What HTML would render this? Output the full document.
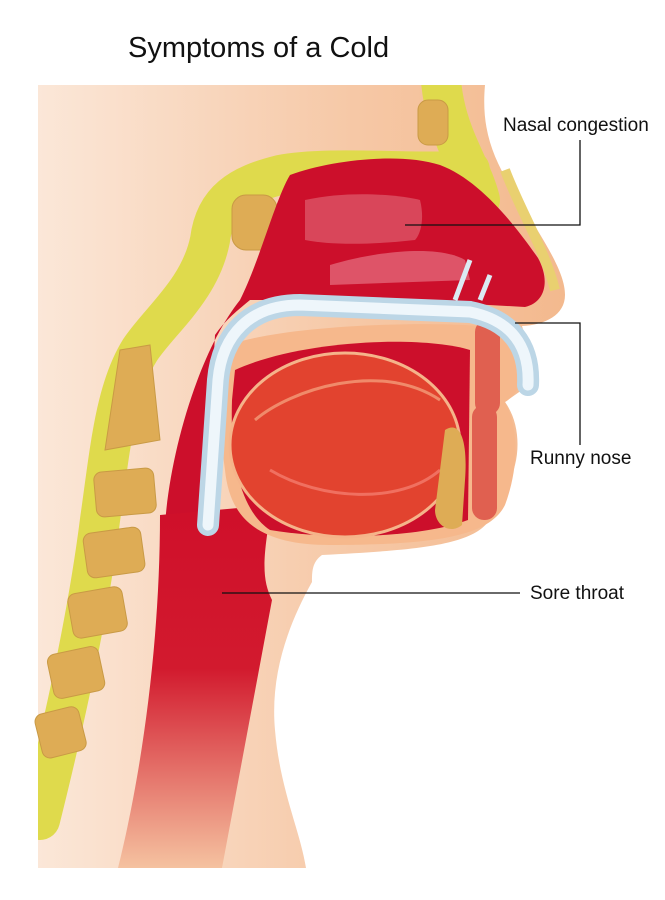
<!DOCTYPE html>
<html><head><meta charset="utf-8"><style>
html,body{margin:0;padding:0;background:#fff;}
svg{display:block}
text{font-family:"Liberation Sans",sans-serif;fill:#111}
</style></head><body>
<svg width="665" height="900" viewBox="0 0 665 900" xmlns="http://www.w3.org/2000/svg">
<defs>
<linearGradient id="skin" x1="0" y1="0" x2="1" y2="0">
<stop offset="0" stop-color="#fbe7d8"/><stop offset="0.6" stop-color="#f6c8a6"/><stop offset="1" stop-color="#f3b98e"/>
</linearGradient>
<linearGradient id="thr" x1="0" y1="0" x2="0" y2="1">
<stop offset="0" stop-color="#cf0f2a"/><stop offset="0.45" stop-color="#d21a2e"/><stop offset="1" stop-color="#f5c2a0"/>
</linearGradient>
<clipPath id="hc"><path d="M38,85 L485,85 C480,140 500,170 525,210 C550,250 565,275 565,295 C565,315 545,325 522,326 C528,345 532,375 522,390 L505,402 C518,420 520,445 515,465 C510,485 500,510 488,522 C470,545 420,550 322,555 C312,562 312,572 312,582 C288,625 270,675 275,730 C280,790 300,830 306,868 L38,868 Z"/></clipPath>
</defs>
<text x="128" y="57" font-size="29">Symptoms of a Cold</text>
<path d="M38,85 L485,85 C480,140 500,170 525,210 C550,250 565,275 565,295 C565,315 545,325 522,326 C528,345 532,375 522,390 L505,402 C518,420 520,445 515,465 C510,485 500,510 488,522 C470,545 420,550 322,555 C312,562 312,572 312,582 C288,625 270,675 275,730 C280,790 300,830 306,868 L38,868 Z" fill="url(#skin)"/>
<g clip-path="url(#hc)">
<path d="M440,60 C440,130 470,160 480,200 M470,170 C420,175 330,165 280,175 C240,185 215,200 210,240 C200,290 160,320 140,350 C115,390 110,450 100,520 C90,600 70,700 40,820" fill="none" stroke="#dfda4c" stroke-width="40" stroke-linecap="round"/>
</g>
<path d="M505,170 C520,210 545,250 555,290" fill="none" stroke="#e9d070" stroke-width="10"/>
<g fill="#deac55" stroke="#c99a45" stroke-width="1">
<rect x="418" y="100" width="30" height="45" rx="10"/>
<rect x="232" y="195" width="45" height="55" rx="14"/>
<path d="M120,350 L150,345 L160,440 L105,450 Z"/>
<rect x="95" y="470" width="60" height="45" rx="8" transform="rotate(-5 125 492)"/>
<rect x="85" y="530" width="58" height="45" rx="8" transform="rotate(-8 114 552)"/>
<rect x="70" y="590" width="55" height="45" rx="8" transform="rotate(-10 97 612)"/>
<rect x="50" y="650" width="52" height="45" rx="8" transform="rotate(-12 76 672)"/>
<rect x="38" y="710" width="45" height="45" rx="8" transform="rotate(-14 60 732)"/>
</g>
<path d="M290,175 C330,160 400,152 440,165 C480,180 515,225 538,258 C550,280 546,302 525,307 L400,300 L250,300 C238,310 225,320 215,335 L205,520 L165,525 C170,450 200,350 240,300 C260,260 275,200 290,175 Z" fill="#cc0f2b"/>
<path d="M305,200 C350,190 400,195 420,200 C425,220 420,235 415,240 C370,245 330,245 305,240 Z" fill="#d9465a"/>
<path d="M330,265 C380,250 440,245 465,260 L470,280 L330,285 Z" fill="#de5468"/>
<path d="M160,515 L272,505 C262,560 262,580 272,600 L222,868 L118,868 C140,780 160,650 160,515 Z" fill="url(#thr)"/>
<path d="M230,345 C280,325 450,318 515,330 C530,360 525,390 505,402 C520,430 518,470 505,505 C490,535 440,545 330,545 C260,545 230,520 225,470 C218,420 220,380 230,345 Z" fill="#f6b88c"/>
<path d="M235,370 C300,340 420,335 470,350 L468,520 C420,538 330,540 270,530 C240,510 230,460 232,400 Z" fill="#cc0f2b"/>
<ellipse cx="345" cy="445" rx="115" ry="92" fill="#e2432f" stroke="#f5b48a" stroke-width="3"/>
<path d="M255,420 C290,390 380,360 440,400" fill="none" stroke="#f08a6a" stroke-width="3"/>
<path d="M270,470 C320,500 400,505 440,470" fill="none" stroke="#f07060" stroke-width="3"/>
<rect x="475" y="320" width="25" height="95" rx="12" fill="#e06050"/>
<rect x="472" y="405" width="25" height="115" rx="12" fill="#e06050"/>
<path d="M445,430 C460,420 468,440 465,480 L462,525 C450,535 435,525 435,510 Z" fill="#deac55"/>
<path d="M528,385 C530,345 510,320 470,312 L300,305 C250,305 222,335 218,380 L208,525" fill="none" stroke="#bcd6e6" stroke-width="22" stroke-linecap="round"/>
<path d="M528,385 C530,345 510,320 470,312 L300,305 C250,305 222,335 218,380 L208,525" fill="none" stroke="#eef6fb" stroke-width="11" stroke-linecap="round"/>
<path d="M455,300 L470,260 M480,300 L490,275" stroke="#dbeaf3" stroke-width="5"/>
<g stroke="#111" stroke-width="1.3" fill="none">
<polyline points="405,225 580,225 580,140"/>
<polyline points="515,323 580,323 580,445"/>
<line x1="222" y1="593" x2="520" y2="593"/>
</g>
<text x="503" y="131" font-size="19">Nasal congestion</text>
<text x="530" y="464" font-size="19">Runny nose</text>
<text x="530" y="599" font-size="19">Sore throat</text>
</svg>
</body></html>
